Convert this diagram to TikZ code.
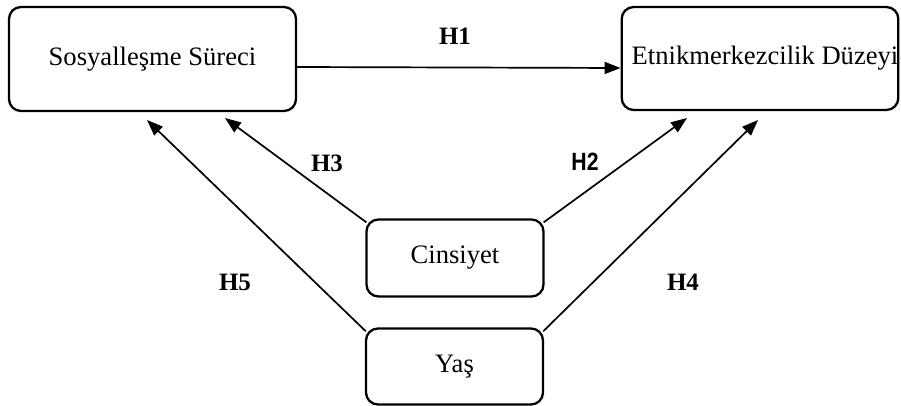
\documentclass[tikz,border=0pt]{standalone}
\usepackage{fontspec}
\setmainfont{Liberation Serif}
\newfontfamily\hsans{Liberation Sans}
\usetikzlibrary{arrows.meta}
\begin{document}
\begin{tikzpicture}[x=1pt,y=-1pt,
  box/.style={draw, line width=2.3pt, rounded corners=12pt, inner sep=0pt, align=center, font=\fontsize{26.6}{30}\selectfont},
  conn/.style={line width=1.7pt, -{Triangle[length=16pt,width=12pt]}},
  hlab/.style={font=\fontsize{25}{28}\selectfont\bfseries},
  hlabs/.style={font=\hsans\fontsize{25}{28}\selectfont\bfseries, xscale=0.85}]
\useasboundingbox (0,0) rectangle (901,406);
\node[box, minimum width=287pt, minimum height=104pt] (sos) at (152.5,59) {Sosyalleşme Süreci};
\node[box, minimum width=274pt, minimum height=103pt] (etn) at (760,58.5) {\hspace*{10pt}Etnikmerkezcilik Düzeyi};
\node[box, minimum width=177pt, minimum height=77pt] (cin) at (455,258) {Cinsiyet};
\node[box, minimum width=177pt, minimum height=76pt] (yas) at (454.5,366.5) {Yaş};
\coordinate (t3) at (225,118);
\coordinate (t2) at (687,118);
\coordinate (t5) at (147,120);
\coordinate (t4) at (758,120);
\draw[conn] (sos.east |- 0,67) -- (etn.west |- 0,68);
\draw[conn] ([shift={(1,4)}]cin.north west) -- (t3);
\draw[conn] ([shift={(-1,4)}]cin.north east) -- (t2);
\draw[conn] ([shift={(1,4)}]yas.north west) -- (t5);
\draw[conn] ([shift={(-1,4)}]yas.north east) -- (t4);
\node[hlab] (h1) at (455,36) {H1};
\node[hlabs] (h2) at (585,162) {H2};
\node[hlab] (h3) at (327,163) {H3};
\node[hlab] (h5) at (235,282) {H5};
\node[hlab] (h4) at (683,282) {H4};
\end{tikzpicture}
\end{document}
